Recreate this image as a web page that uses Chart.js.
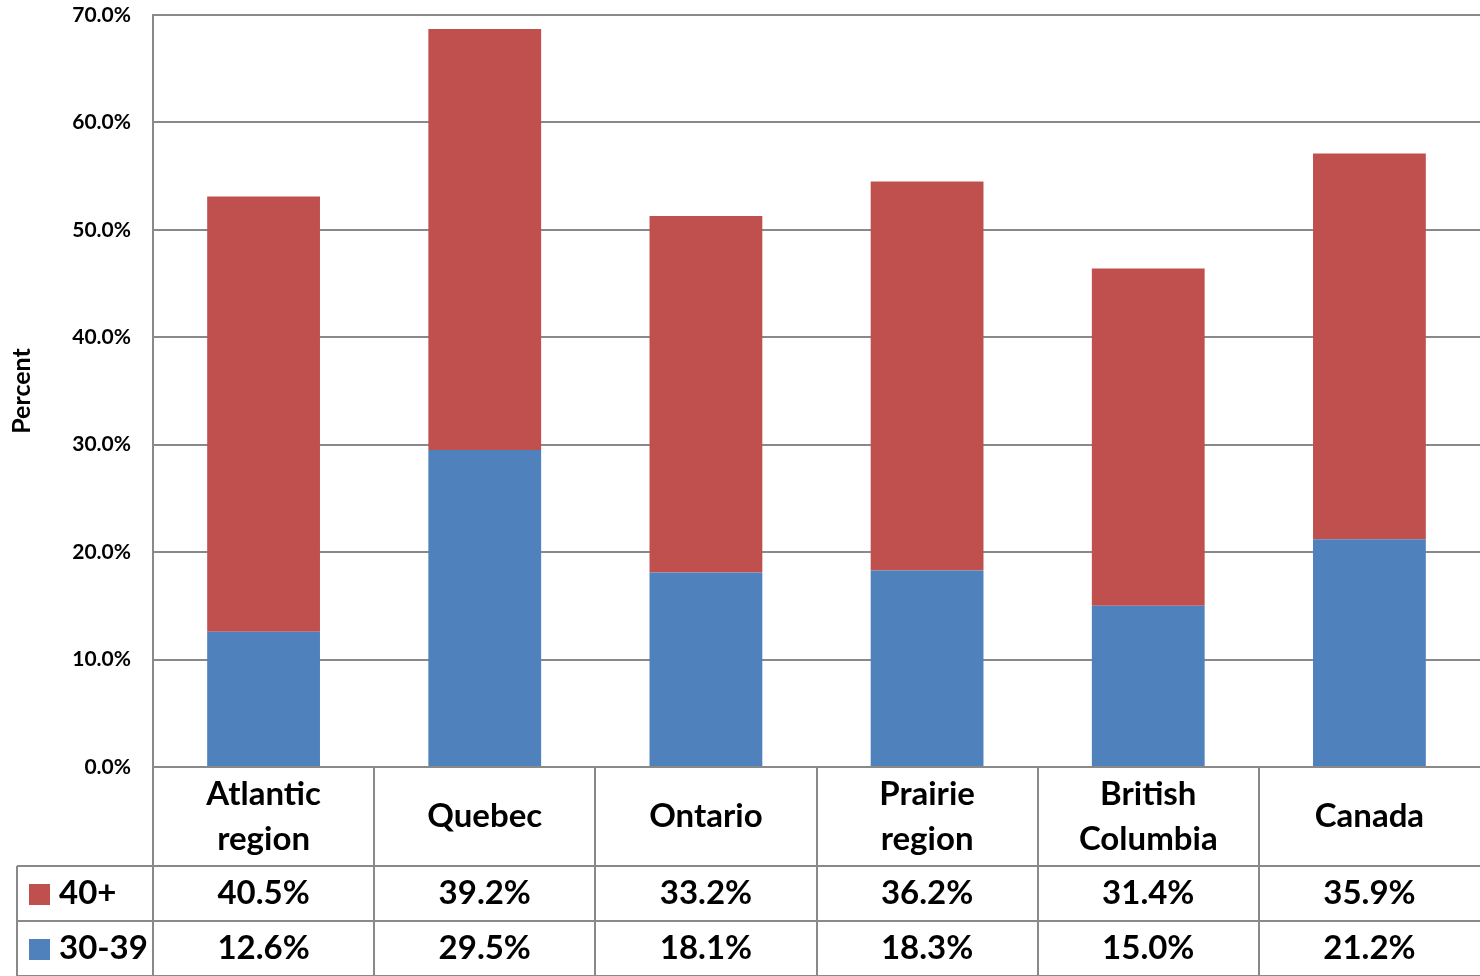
<!DOCTYPE html>
<html>
<head>
<meta charset="utf-8">
<title>Percent by region</title>
<script src="https://cdn.jsdelivr.net/npm/chart.js@4/dist/chart.umd.min.js"></script>
<style>
  html, body { margin: 0; padding: 0; background: #fff; }
  #wrap { width: 1480px; height: 976px; overflow: hidden; }
</style>
</head>
<body>
<div id="wrap"><canvas id="barChart" width="1480" height="976"></canvas></div>
<script>
var categories = [['Atlantic', 'region'], ['Quebec'], ['Ontario'], ['Prairie', 'region'], ['British', 'Columbia'], ['Canada']];
var age30to39 = [12.6, 29.5, 18.1, 18.3, 15.0, 21.2];
var age40plus = [40.5, 39.2, 33.2, 36.2, 31.4, 35.9];
var seriesNames = ['40+', '30-39'];

var RED = '#C0504D';
var BLUE = '#4F81BD';
var LINE = '#898989';
var FONT = 'Lato, "Open Sans", sans-serif';

function pct(v) {
    return v.toFixed(1) + '%';
}

// Data table under the plot: category row, then one row per series with a colour key
var dataTable = {
    id: 'dataTable',
    afterDraw: function (chart) {
        var ctx = chart.ctx;
        var x = chart.scales.x;
        var area = chart.chartArea;
        var n = categories.length;

        // column separators sit halfway between category centres
        var edges = [area.left];
        for (var i = 1; i < n; i++) {
            edges.push((x.getPixelForValue(i - 1) + x.getPixelForValue(i)) / 2);
        }

        var rowTop = area.bottom;
        var row1 = rowTop + 99;
        var row2 = row1 + 55;
        var row3 = row2 + 55;
        var keyLeft = 17;

        ctx.save();
        ctx.strokeStyle = LINE;
        ctx.lineWidth = 2;
        ctx.beginPath();
        edges.forEach(function (ex) {
            var px = Math.round(ex);
            ctx.moveTo(px, rowTop);
            ctx.lineTo(px, row3);
        });
        ctx.moveTo(keyLeft, row1);
        ctx.lineTo(keyLeft, row3);
        [row1, row2, row3].forEach(function (ry) {
            ctx.moveTo(keyLeft, ry);
            ctx.lineTo(area.right, ry);
        });
        ctx.stroke();

        ctx.fillStyle = '#000';
        ctx.textAlign = 'center';
        ctx.textBaseline = 'middle';
        ctx.font = 'bold 33px ' + FONT;
        var catMid = (rowTop + row1) / 2;
        categories.forEach(function (lines, i) {
            var cx = x.getPixelForValue(i);
            var lh = 45;
            var start = catMid - (lines.length - 1) * lh / 2;
            lines.forEach(function (t, k) {
                ctx.fillText(t, cx, start + k * lh);
            });
        });

        var rows = [
            { name: seriesNames[0], color: RED, values: age40plus, mid: (row1 + row2) / 2 },
            { name: seriesNames[1], color: BLUE, values: age30to39, mid: (row2 + row3) / 2 }
        ];
        rows.forEach(function (r) {
            ctx.textAlign = 'center';
            r.values.forEach(function (v, i) {
                ctx.fillText(pct(v), x.getPixelForValue(i), r.mid);
            });
            ctx.fillStyle = r.color;
            ctx.fillRect(29, Math.round(r.mid - 10), 21, 21);
            ctx.fillStyle = '#000';
            ctx.textAlign = 'left';
            ctx.fillText(r.name, 59, r.mid);
        });
        ctx.restore();
    }
};

var ctx = document.getElementById('barChart').getContext('2d');
new Chart(ctx, {
    type: 'bar',
    data: {
        labels: categories,
        datasets: [
            {
                label: seriesNames[1],
                data: age30to39,
                backgroundColor: BLUE,
                borderWidth: 0
            },
            {
                label: seriesNames[0],
                data: age40plus,
                backgroundColor: RED,
                borderWidth: 0
            }
        ]
    },
    options: {
        responsive: false,
        animation: false,
        events: [],
        layout: { padding: { top: 15, right: -4, bottom: 201, left: 0 } },
        plugins: {
            legend: { display: false },
            tooltip: { enabled: false }
        },
        datasets: {
            bar: { categoryPercentage: 1, barPercentage: 0.51 }
        },
        scales: {
            x: {
                stacked: true,
                ticks: { display: false },
                grid: { display: false },
                border: { display: true, color: LINE, width: 2 }
            },
            y: {
                stacked: true,
                min: 0,
                max: 70,
                ticks: {
                    stepSize: 10,
                    padding: 22,
                    color: '#000',
                    font: { family: FONT, size: 21, weight: 'bold' },
                    callback: function (v) { return pct(v); }
                },
                grid: { color: LINE, lineWidth: 2, drawTicks: false },
                border: { display: true, color: LINE, width: 2 },
                title: {
                    display: true,
                    text: 'Percent',
                    color: '#000',
                    padding: { top: 7, bottom: 0 },
                    font: { family: FONT, size: 25, weight: 'bold' }
                },
                afterFit: function (scale) {
                    scale.width = 153;
                    scale.paddingTop = 0;
                    scale.paddingBottom = 0;
                }
            }
        }
    },
    plugins: [dataTable]
});
</script>
</body>
</html>
